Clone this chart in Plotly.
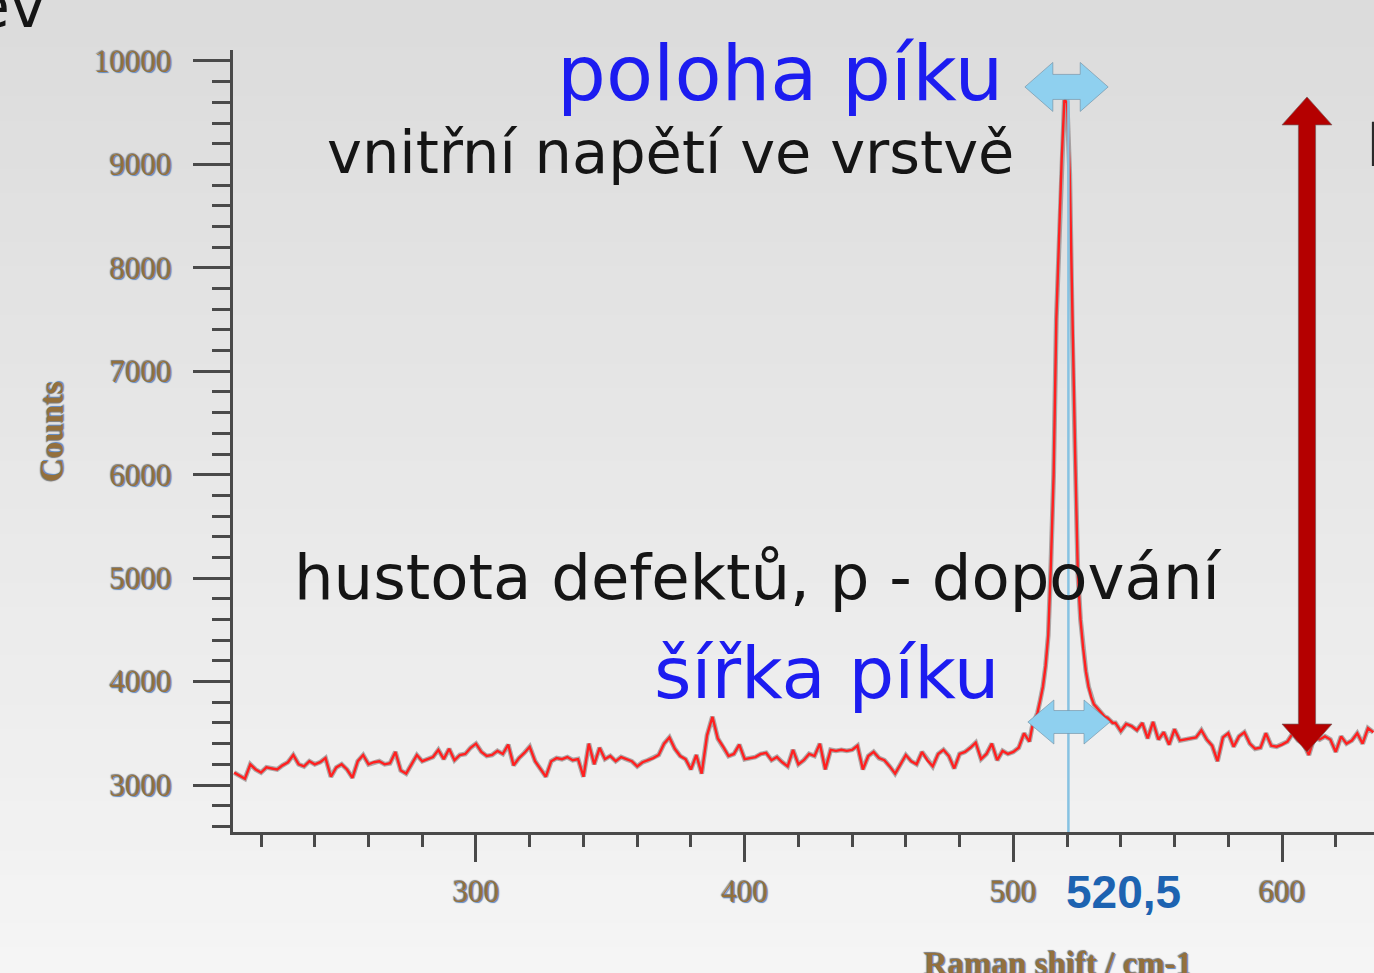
import plotly.graph_objects as go

# ---------------- data ----------------
shift_left = list(range(210, 507, 2))
counts_left = [
    3120, 3090, 3060, 3200, 3150, 3120, 3170, 3160, 3150, 3190,
    3220, 3290, 3200, 3180, 3230, 3200, 3220, 3260, 3080, 3170,
    3200, 3150, 3070, 3230, 3290, 3200, 3220, 3230, 3200, 3210,
    3320, 3140, 3110, 3200, 3290, 3230, 3250, 3270, 3340, 3250,
    3350, 3240, 3290, 3300, 3360, 3400, 3320, 3280, 3290, 3330,
    3300, 3390, 3190, 3260, 3310, 3370, 3230, 3150, 3080, 3230,
    3260, 3250, 3270, 3240, 3250, 3080, 3400, 3200, 3360, 3250,
    3280, 3230, 3270, 3250, 3230, 3180, 3220, 3240, 3260, 3290,
    3400, 3460, 3350, 3280, 3250, 3150, 3290, 3110, 3480, 3660,
    3450, 3370, 3280, 3300, 3390, 3250, 3260, 3270, 3300, 3310,
    3240, 3270, 3220, 3180, 3340, 3200, 3240, 3300, 3280, 3400,
    3150, 3340, 3330, 3340, 3330, 3340, 3380, 3150, 3280, 3320,
    3260, 3240, 3180, 3110, 3200, 3290, 3230, 3200, 3320, 3240,
    3180, 3300, 3340, 3280, 3160, 3300, 3320, 3360, 3410, 3250,
    3300, 3400, 3240, 3330, 3300, 3320, 3360, 3500, 3420,
]
shift_peak = list(range(507, 538, 1))
counts_peak = [
    3560, 3620, 3700, 3820, 3950, 4150, 4450, 5150, 6000, 7500,
    8300, 9050, 9620, 9600, 8900, 7350, 6200, 5050, 4600, 4320,
    4100, 3950, 3850, 3780, 3750, 3720, 3690, 3660, 3650, 3620,
    3600,
]
shift_right = list(range(538, 635, 2))
counts_right = [
    3600, 3520, 3590, 3570, 3530, 3600, 3450, 3610, 3440, 3510,
    3390, 3540, 3430, 3440, 3450, 3460, 3530, 3440, 3380, 3230,
    3460, 3500, 3370, 3470, 3510, 3400, 3350, 3360, 3500, 3380,
    3370, 3390, 3420, 3500, 3430, 3400, 3290, 3460, 3440, 3470,
    3440, 3320, 3470, 3400, 3430, 3500, 3400, 3550, 3510,
]
assert len(shift_left) == len(counts_left)
assert len(shift_peak) == len(counts_peak)
assert len(shift_right) == len(counts_right)

raman_shift = shift_left + shift_peak + shift_right
counts = counts_left + counts_peak + counts_right

peak_position = 520.5
peak_label = "520,5"
x_ticks = [300, 400, 500, 600]
x_tick_labels = ["300", "400", "500", "600"]
y_ticks = [3000, 4000, 5000, 6000, 7000, 8000, 9000, 10000]
y_tick_labels = ["3000", "4000", "5000", "6000", "7000", "8000", "9000", "10000"]

# ---------------- layout geometry ----------------
W, H = 1374, 973
ML, MR, MT, MB = 233, 0, 50, 141
X_RANGE = [209.56, 634.24]
Y_RANGE = [2545.6, 10106]
PW, PH = W - ML - MR, H - MT - MB


def px_x(px):
    return (px - ML) / PW


def px_y(py):
    return (H - MB - py) / PH


fig = go.Figure()

# gradient background as bands
shapes = []
N = 40
for i in range(N):
    t = i / (N - 1)
    c = int(220 + (245 - 220) * t)
    shapes.append(dict(type="rect", xref="paper", yref="paper", layer="below",
                       x0=px_x(-5), x1=px_x(W + 5),
                       y0=px_y(H * (i + 1) / N + 1), y1=px_y(H * i / N - 1),
                       line=dict(width=0), fillcolor=f"rgb({c},{c},{c})"))

# spectrum: soft grey halo + red line
fig.add_trace(go.Scatter(x=raman_shift, y=counts, mode="lines",
                         line=dict(color="rgba(120,110,110,0.55)", width=4.8),
                         hoverinfo="skip", showlegend=False))
fig.add_trace(go.Scatter(x=raman_shift, y=counts, mode="lines",
                         line=dict(color="#ff2020", width=2.4),
                         showlegend=False, name="spectrum"))

# vertical marker at peak position
shapes.append(dict(type="line", xref="x", yref="y", layer="above",
                   x0=peak_position, x1=peak_position, y0=Y_RANGE[0], y1=9630,
                   line=dict(color="#86c2e2", width=2.5)))


def h_double_arrow(xc, yc, half_len, head_len, head_half, shaft_half):
    xl, xr = xc - half_len, xc + half_len
    pts = [(xl, yc), (xl + head_len, yc + head_half), (xl + head_len, yc + shaft_half),
           (xr - head_len, yc + shaft_half), (xr - head_len, yc + head_half), (xr, yc),
           (xr - head_len, yc - head_half), (xr - head_len, yc - shaft_half),
           (xl + head_len, yc - shaft_half), (xl + head_len, yc - head_half)]
    return "M " + " L ".join(f"{x},{y}" for x, y in pts) + " Z"


def v_double_arrow(xc, ytop, ybot, head_len, head_half, shaft_half):
    pts = [(xc, ytop), (xc + head_half, ytop - head_len), (xc + shaft_half, ytop - head_len),
           (xc + shaft_half, ybot + head_len), (xc + head_half, ybot + head_len), (xc, ybot),
           (xc - head_half, ybot + head_len), (xc - shaft_half, ybot + head_len),
           (xc - shaft_half, ytop - head_len), (xc - head_half, ytop - head_len)]
    return "M " + " L ".join(f"{x},{y}" for x, y in pts) + " Z"


shapes.append(dict(type="path", xref="x", yref="y", layer="above",
                   path=h_double_arrow(519.8, 9749, 15.5, 10.4, 237, 121),
                   fillcolor="#8fd0ef", line=dict(color="rgba(110,140,160,0.6)", width=1)))
shapes.append(dict(type="path", xref="x", yref="y", layer="above",
                   path=h_double_arrow(520.7, 3609, 15.3, 9.7, 213, 111),
                   fillcolor="#8fd0ef", line=dict(color="rgba(110,140,160,0.6)", width=1)))
shapes.append(dict(type="path", xref="x", yref="y", layer="above",
                   path=v_double_arrow(609.3, 9652, 3319, 270, 9.3, 3.2),
                   fillcolor="#b40000", line=dict(color="rgba(120,90,90,0.7)", width=1)))

SANS = "DejaVu Sans"
SERIF = "Liberation Serif"
LABEL_COLOR = "#94703c"
LABEL_SHADOW = "1px 1px 1px #5a86c0, -1px -1px 1px #7a7a7a"
ann = []


def add_text(text, px, py, size, color, family=SANS, xanchor="center", yanchor="middle",
             bold=False, angle=0, shadow=None):
    font = dict(family=family, size=size, color=color, weight="bold" if bold else "normal")
    if shadow:
        font["shadow"] = shadow
    ann.append(dict(text=text, xref="paper", yref="paper", x=px_x(px), y=px_y(py),
                    xanchor=xanchor, yanchor=yanchor, showarrow=False, font=font,
                    textangle=angle))


add_text("poloha píku", 780, 74, 77, "#1c1cf0")
add_text("vnitřní napětí ve vrstvě", 670, 152, 59, "#151515")
add_text("hustota defektů, p - dopování", 758, 577, 62.5, "#151515")
add_text("šířka píku", 826, 673, 72, "#1c1cf0")
add_text(peak_label, 1123, 892, 46, "#1d63b1", family="Liberation Sans", bold=True)
add_text("ev", 47, 6, 60, "#151515", xanchor="right")
add_text("Intenzita píku", 1364, 145, 60, "#2a2a2a", xanchor="left")
add_text("Counts", 52, 432, 33, LABEL_COLOR, family=SERIF, bold=True, angle=-90,
         shadow=LABEL_SHADOW)
add_text("Raman shift / cm-1", 1058, 944, 33, LABEL_COLOR, family=SERIF, bold=True,
         yanchor="top", shadow=LABEL_SHADOW)

axis_common = dict(showline=True, linecolor="#4a4a4a", linewidth=3, ticks="outside",
                   tickwidth=3, tickcolor="#4a4a4a", showgrid=False, zeroline=False,
                   tickfont=dict(family=SERIF, size=31, color=LABEL_COLOR,
                                 shadow=LABEL_SHADOW))

fig.update_layout(
    width=W, height=H,
    margin=dict(l=ML, r=MR, t=MT, b=MB, autoexpand=False),
    paper_bgcolor="#e8e8e8", plot_bgcolor="rgba(0,0,0,0)",
    showlegend=False,
    shapes=shapes, annotations=ann,
    xaxis=dict(range=X_RANGE, tickvals=x_ticks, ticktext=x_tick_labels, ticklen=27,
               ticklabelstandoff=3,
               minor=dict(ticks="outside", dtick=20, tick0=0, ticklen=12, tickwidth=3,
                          tickcolor="#4a4a4a"),
               **axis_common),
    yaxis=dict(range=Y_RANGE, tickvals=y_ticks, ticktext=y_tick_labels, ticklen=37,
               ticklabelstandoff=15,
               minor=dict(ticks="outside", dtick=200, tick0=0, ticklen=18, tickwidth=3,
                          tickcolor="#4a4a4a"),
               **axis_common),
)

fig.write_html("out.html",
               config={"displayModeBar": False},
               post_script="document.body.style.margin='0';"
                           "document.body.style.overflow='hidden';")
